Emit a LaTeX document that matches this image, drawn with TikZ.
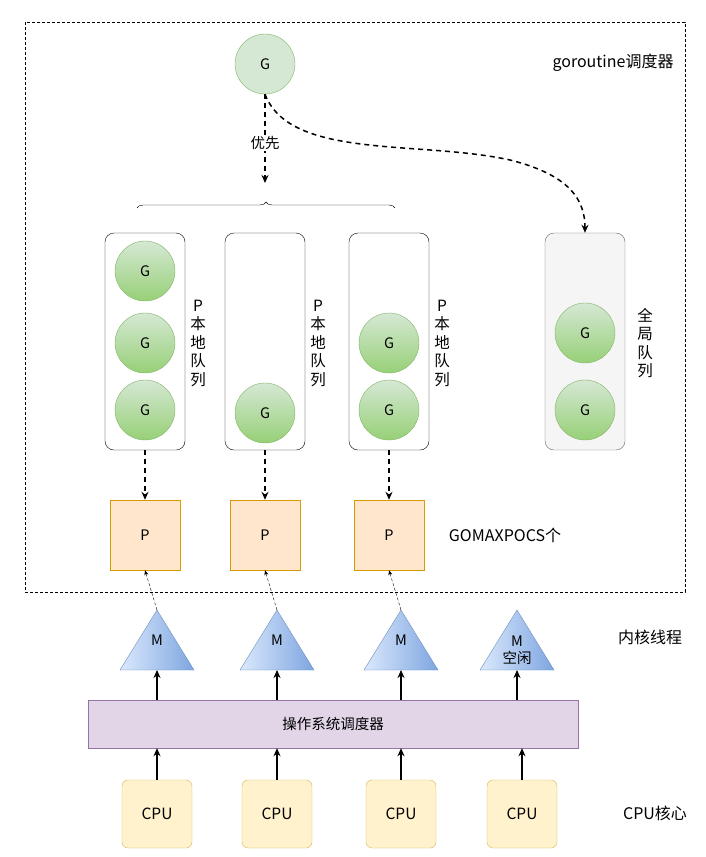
\documentclass[tikz,border=0pt]{standalone}
\usepackage{fontspec}
\setmainfont{Noto Sans CJK SC}
\usetikzlibrary{arrows.meta,decorations.pathreplacing}
\definecolor{gfill}{HTML}{D5E8D4}
\definecolor{gdraw}{HTML}{82B366}
\definecolor{gdark}{HTML}{97D077}
\definecolor{pfill}{HTML}{FFE6CC}
\definecolor{pdraw}{HTML}{D79B00}
\definecolor{mlight}{HTML}{DAE8FC}
\definecolor{mdark}{HTML}{7EA6E0}
\definecolor{mdraw}{HTML}{6C8EBF}
\definecolor{osfill}{HTML}{E1D5E7}
\definecolor{osdraw}{HTML}{9673A6}
\definecolor{cfill}{HTML}{FFF2CC}
\definecolor{cdraw}{HTML}{D6B656}
\begin{document}
\begin{tikzpicture}[x=1pt,y=-1pt,font=\fontsize{14.5}{17}\selectfont]
        % Define styles
        \tikzset{
            gnode/.style={circle, draw=gdraw, minimum size=60pt, inner sep=0pt,
                top color=gfill, bottom color=gdark},
            queue/.style={draw, rounded corners=9pt, minimum width=80pt, minimum height=217pt},
            pbox/.style={draw=pdraw, fill=pfill, minimum size=70pt},
            cpubox/.style={draw=cdraw, fill=cfill, rounded corners=6pt, minimum width=70pt, minimum height=68pt},
            bigdash/.style={-{Stealth[length=8pt,width=7pt]}, line width=1.5pt, dash pattern=on 5pt off 4pt},
            solidup/.style={-{Stealth[length=8pt,width=7pt]}, line width=1.5pt},
            vlabel/.style={align=center, font=\fontsize{15.5}{18.5}\selectfont},
            side/.style={font=\fontsize{16}{19}\selectfont}
        }
        \useasboundingbox (0,0) rectangle (705,857);
        % Scheduler frame
        \draw[dashed, dash pattern=on 3pt off 2pt] (25,22) rectangle (685,592);
        \node[side] (title) at (613,63) {goroutine调度器};
        % New goroutine
        \node[gnode, top color=gfill, bottom color=gfill] (gnew) at (265,64) {G};
        \coordinate (brtip) at (265,183);
        \draw[bigdash] (gnew.south) -- (brtip);
        \node[fill=white, inner sep=1pt] (prio) at (265,143) {优先};
        % Brace over the local queues
        \draw[decorate, decoration={brace, amplitude=6pt}] (137,208) -- (395,208);
        % Local queues
        \node[queue] (q1) at (145,341.5) {};
        \node[queue] (q2) at (265,341.5) {};
        \node[queue] (q3) at (389,341.5) {};
        \node[queue, draw=black!60, fill=black!4] (qg) at (585,341.5) {};
        \draw[bigdash] (gnew.south) .. controls (290,160) and (420,140) .. (510,160)
            .. controls (570,175) and (585,200) .. (qg.north);
        \foreach \x/\y in {145/271, 145/343, 145/410, 265/413, 389/343, 389/410, 585/333, 585/410}
            \node[gnode] (g\x-\y) at (\x,\y) {G};
        \foreach \x in {198,318,442}
            \node[vlabel] (pl\x) at (\x,343) {P\\本\\地\\队\\列};
        \node[vlabel] (gl) at (645,343) {全\\局\\队\\列};
        % Processors
        \foreach \i/\x in {1/145,2/265,3/389}{
            \node[pbox] (p\i) at (\x,535) {P};
            \draw[bigdash] (q\i.south) -- (p\i.north);
        }
        \node[side] (gomax) at (505,535) {GOMAXPOCS个};
        % Kernel threads
        \foreach \i/\x in {1/157,2/277,3/401,4/517}{
            \shade[left color=mlight, right color=mdark, draw=mdraw] (\x-37,670) -- (\x,610) -- (\x+37,670) -- cycle;
            \coordinate (m\i) at (\x,610);
            \coordinate (mb\i) at (\x,670);
        }
        \foreach \i/\x in {1/157,2/277,3/401}{
            \node (ml\i) at (\x,640) {M};
            \draw[densely dashed, -{Stealth[length=5pt,width=4pt]}] (m\i) -- (p\i.south);
        }
        \node[align=center, inner sep=0pt] (ml4) at (517,650) {M\\空闲};
        \node[side] (kernel) at (650,637) {内核线程};
        % OS scheduler and CPUs
        \node[draw=osdraw, fill=osfill, minimum width=490pt, minimum height=48pt] (os) at (333,724) {操作系统调度器};
        \foreach \i/\x in {1/157,2/277,3/401,4/522}{
            \node[cpubox, font=\fontsize{15.5}{18}\selectfont] (cpu\i) at (\x,814) {CPU};
            \draw[solidup] (cpu\i.north) -- (cpu\i.north |- os.south);
        }
        \foreach \i in {1,...,4}
            \draw[solidup] (mb\i |- os.north) -- (mb\i);
        \node[side] (cpucore) at (655,813) {CPU核心};
    \end{tikzpicture}
\end{document}
